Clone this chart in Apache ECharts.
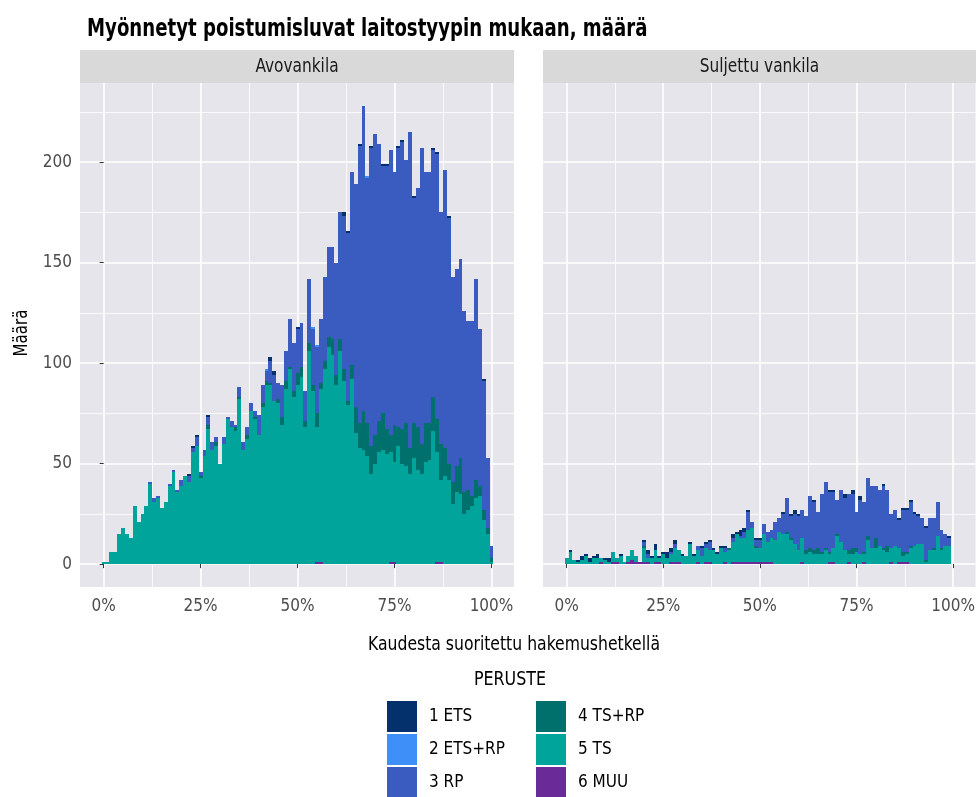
<!DOCTYPE html>
<html>
<head>
<meta charset="utf-8">
<script src="https://cdn.jsdelivr.net/npm/echarts@6/dist/echarts.min.js"></script>
<style>
  html, body { margin: 0; padding: 0; background: #fff; }
  #chart { width: 978px; height: 797px; }
</style>
</head>
<body>
<div id="chart"></div>
<script>
// bins: share of the term completed (%)
var pct = [0,1,2,3,4,5,6,7,8,9,10,11,12,13,14,15,16,17,18,19,20,21,22,23,24,25,26,27,28,29,
  30,31,32,33,34,35,36,37,38,39,40,41,42,43,44,45,46,47,48,49,50,51,52,53,54,55,56,57,58,59,
  60,61,62,63,64,65,66,67,68,69,70,71,72,73,74,75,76,77,78,79,80,81,82,83,84,85,86,87,88,89,
  90,91,92,93,94,95,96,97,98,99,100];
var xTicks = [0, 25, 50, 75, 100];
var xMinor = [12.5, 37.5, 62.5, 87.5];
var yTicks = [0, 50, 100, 150, 200];
var yMinor = [25, 75, 125, 175, 225];

var groups = ['1 ETS', '2 ETS+RP', '3 RP', '4 TS+RP', '5 TS', '6 MUU'];

// Avovankila
var open_muu = [0,0,0,0,0,0,0,0,0,0, 0,0,0,0,0,0,0,0,0,0, 0,0,0,0,0,0,0,0,0,0, 0,0,0,0,0,0,0,0,0,0,
  0,0,0,0,0,0,0,0,0,0, 0,0,0,0,0,1,1,0,0,0, 0,0,0,0,0,0,0,0,0,0, 0,0,0,0,1,1,0,0,0,0,
  0,0,0,0,0,0,1,1,0,0, 0,0,0,0,0,0,0,0,0,0, 0];
var open_ts = [1,1,6,6,15,18,15,13,29,21, 25,29,40,31,33,28,31,39,46,36, 39,44,41,56,59,43,54,67,57,59,
  50,60,72,68,66,82,57,62,76,72, 64,78,89,89,81,80,69,87,97,83, 89,93,68,106,86,67,86,97,108,104,
  89,106,91,79,92,65,58,57,54,45, 50,56,57,55,55,50,59,50,49,45, 53,47,45,51,52,66,55,41,44,42,
  30,36,35,25,27,29,33,34,22,15, 1];
var open_tsrp = [0,0,0,0,0,0,0,0,0,0, 0,0,0,0,0,0,0,0,0,0, 0,0,0,0,0,1,0,2,0,2, 0,0,0,0,2,1,0,2,0,1,
  0,2,2,1,0,2,4,4,1,3, 6,5,3,4,3,7,3,4,5,8, 5,6,6,2,7,13,12,19,16,14, 14,15,18,12,8,18,9,17,21,13,
  17,21,15,19,18,17,16,18,14,8, 11,13,18,11,10,5,9,5,5,3, 2];
var open_rp = [0,0,0,0,0,0,0,0,0,0, 0,0,1,2,1,0,0,1,1,1, 3,0,3,2,4,2,3,4,4,2, 0,3,1,3,1,5,4,4,4,3,
  10,9,5,11,13,8,16,15,24,24, 22,22,15,32,28,33,32,42,45,46, 56,63,76,84,96,111,138,152,122,148,
  150,138,123,131,142,126,139,143,131,157, 112,119,147,125,125,123,132,115,138,122,
  102,98,99,90,84,87,100,78,64,35, 6];
var open_etsrp = [0,0,0,0,0,0,0,0,0,0, 0,0,0,0,0,0,0,0,0,0, 0,0,0,0,0,0,0,0,0,0, 0,0,0,0,0,0,0,0,0,0,
  0,0,1,0,0,0,0,0,0,0, 0,0,0,0,1,1,0,0,0,0, 0,0,0,0,0,0,0,0,1,0, 0,0,0,0,0,0,0,0,0,0,
  0,0,0,0,0,0,0,0,0,0, 0,0,0,0,0,0,0,0,0,0, 0];
var open_ets = [0,0,0,0,0,0,0,0,0,0, 0,0,0,0,0,0,0,0,0,0, 0,0,1,1,1,0,0,1,0,0, 0,0,0,0,0,0,0,0,0,0,
  0,0,0,2,2,0,0,0,0,0, 1,0,0,0,0,0,0,0,0,0, 0,0,2,1,0,0,1,0,0,1, 0,0,1,1,0,0,1,1,0,0,
  1,0,0,0,0,1,1,0,0,1, 0,0,0,0,0,0,0,0,1,0, 0];

// Suljettu vankila
var closed_muu = [0,0,0,0,0,0,0,0,0,1, 0,0,1,1,0,0,1,2,1,1, 1,1,0,1,1,0,0,1,1,1, 0,0,0,0,1,0,1,1,0,0,
  0,1,0,1,1,1,1,1,1,1, 1,1,1,1,0,0,0,0,0,0, 0,1,0,0,0,0,0,0,1,1, 0,0,0,1,0,0,0,1,0,0,
  0,0,0,0,1,0,1,1,1,0, 0,0,0,0,0,0,0,0,0,0, 0];
var closed_ts = [3,6,2,1,2,4,1,3,3,2, 2,1,5,2,4,1,3,5,3,0, 7,2,3,6,2,5,3,4,7,6, 4,4,10,4,6,4,7,6,7,5,
  8,5,7,10,14,12,12,16,17,7, 7,14,10,12,12,16,15,15,12,10, 7,12,5,6,5,5,5,7,4,7,
  14,11,7,4,5,6,5,4,12,8, 8,9,7,6,7,9,7,3,4,8, 9,10,10,1,7,7,14,7,9,9, 0];
var closed_tsrp = [0,0,0,0,0,0,0,0,0,0, 0,0,0,0,0,0,0,0,0,0, 1,0,0,0,0,0,0,0,0,0, 0,0,0,0,0,0,0,0,0,0,
  0,0,1,0,0,0,0,0,0,1, 0,0,0,0,0,0,0,1,1,0, 0,0,2,2,2,3,1,1,1,0, 1,0,0,2,3,2,0,1,2,0,
  5,0,1,3,0,0,0,2,1,1, 0,0,0,1,0,1,0,1,0,0, 0];
var closed_rp = [0,0,0,0,0,0,0,0,0,0, 0,0,0,0,0,0,0,0,0,0, 2,2,0,0,0,0,0,1,2,0, 0,0,0,0,2,4,2,4,0,0,
  0,2,0,2,0,1,3,9,3,3, 4,5,5,4,9,7,10,17,11,15, 17,14,17,26,24,18,29,33,30,28,
  17,26,26,28,27,18,27,25,29,31, 26,28,31,28,17,18,14,21,21,22, 16,14,13,16,16,15,17,9,6,4, 0];
var closed_etsrp = [0,0,0,0,0,0,0,0,0,0, 0,0,0,0,0,0,0,0,0,0, 0,0,0,0,0,0,0,0,0,0, 0,0,0,0,0,0,0,0,0,0,
  0,0,0,0,0,0,0,0,0,0, 0,0,0,0,0,0,0,0,0,0, 0,0,0,0,0,0,0,0,0,0, 0,0,0,0,0,0,0,0,0,0,
  0,0,0,0,0,0,0,0,0,0, 0,0,0,0,0,0,0,0,0,0, 0];
var closed_ets = [0,1,0,1,2,1,2,1,2,0, 1,2,0,0,1,0,0,0,0,0, 1,2,1,3,1,1,3,2,2,0, 1,0,1,1,0,1,1,1,1,1,
  1,1,0,2,1,3,2,1,0,1, 1,0,0,0,0,0,1,0,1,2, 1,0,0,0,1,0,0,0,1,1, 0,0,2,0,2,0,2,0,0,0,
  0,0,1,0,0,0,1,1,1,1, 1,1,0,1,0,0,0,0,0,1, 0];

(function () {
  var font = '"DejaVu Sans Condensed", "Liberation Sans Narrow", sans-serif';
  var colors = {
    '1 ETS': '#04306B',
    '2 ETS+RP': '#3F8FF8',
    '3 RP': '#3A5BBF',
    '4 TS+RP': '#00706D',
    '5 TS': '#00A49B',
    '6 MUU': '#6A2A97'
  };
  var panelBg = '#E7E5EC';
  var xMin = -6.1, xMax = 105.8, yMin = -11.4, yMax = 239.4;

  // stacking order, bottom first
  var stackOrder = [
    ['6 MUU', open_muu, closed_muu],
    ['5 TS', open_ts, closed_ts],
    ['4 TS+RP', open_tsrp, closed_tsrp],
    ['3 RP', open_rp, closed_rp],
    ['2 ETS+RP', open_etsrp, closed_etsrp],
    ['1 ETS', open_ets, closed_ets]
  ];

  var panels = [
    { name: 'Avovankila', left: 80, width: 434 },
    { name: 'Suljettu vankila', left: 543, width: 433 }
  ];
  var top = 83, height = 504;

  var grids = [], xAxes = [], yAxes = [], series = [], graphics = [];
  panels.forEach(function (p, pi) {
    grids.push({ left: p.left, top: top, width: p.width, height: height,
      show: true, backgroundColor: panelBg, borderWidth: 0 });
    xAxes.push({
      type: 'value', gridIndex: pi, min: xMin, max: xMax,
      axisLine: { show: false },
      axisTick: { show: true, customValues: xTicks, length: 4, lineStyle: { color: '#333', width: 1 } },
      axisLabel: { customValues: xTicks, formatter: '{value}%', color: '#4D4D4D',
        fontFamily: font, fontSize: 17, margin: 11 },
      splitLine: { show: true, lineStyle: { color: '#fff', width: 1.6 } }
    });
    yAxes.push({
      type: 'value', gridIndex: pi, min: yMin, max: yMax,
      axisLine: { show: false },
      axisTick: { show: pi === 0, customValues: yTicks, length: 4, lineStyle: { color: '#333', width: 1 } },
      axisLabel: { show: pi === 0, customValues: yTicks, color: '#4D4D4D',
        fontFamily: font, fontSize: 17, margin: 8 },
      splitLine: { show: true, lineStyle: { color: '#fff', width: 1.6 } }
    });
    graphics.push({ type: 'rect', z: 10, shape: { x: p.left, y: 50, width: p.width, height: 33 },
      style: { fill: '#D9D9D9' } });
    graphics.push({ type: 'text', z: 11, x: p.left + p.width / 2, y: 67, scaleX: 0.9,
      style: { text: p.name, font: '19px ' + font, fill: '#1A1A1A', align: 'center', verticalAlign: 'middle' } });
  });
  // minor grid lines on twin grids
  panels.forEach(function (p, pi) {
    grids.push({ left: p.left, top: top, width: p.width, height: height, show: false });
    xAxes.push({
      type: 'value', gridIndex: 2 + pi, min: xMin, max: xMax,
      axisLine: { show: false }, axisLabel: { show: false },
      axisTick: { show: false, customValues: xMinor },
      splitLine: { show: true, lineStyle: { color: '#fff', width: 0.8 } }
    });
    yAxes.push({
      type: 'value', gridIndex: 2 + pi, min: yMin, max: yMax,
      axisLine: { show: false }, axisLabel: { show: false },
      axisTick: { show: false, customValues: yMinor },
      splitLine: { show: true, lineStyle: { color: '#fff', width: 0.8 } }
    });
  });

  // one-unit-wide histogram bins, stacked on the running total; edges snapped to pixels
  function renderBin(params, api) {
    var x = api.value(0), base = api.value(1), v = api.value(2);
    if (!v) return null;
    var p0 = api.coord([x - 0.5, base]);
    var p1 = api.coord([x + 0.5, base + v]);
    var xl = Math.round(p0[0]), xr = Math.round(p1[0]);
    var yb = Math.round(p0[1]), yt = Math.round(p1[1]);
    return {
      type: 'rect',
      shape: { x: xl, y: yt, width: xr - xl, height: yb - yt },
      style: { fill: api.visual('color') }
    };
  }

  [0, 1].forEach(function (pi) {
    var running = pct.map(function () { return 0; });
    stackOrder.forEach(function (s) {
      var vals = s[1 + pi];
      var data = pct.map(function (x, i) { return [x, running[i], vals[i]]; });
      running = running.map(function (r, i) { return r + vals[i]; });
      series.push({
        name: s[0], type: 'custom',
        xAxisIndex: pi, yAxisIndex: pi,
        itemStyle: { color: colors[s[0]] },
        encode: { x: 0, y: [1, 2] },
        renderItem: renderBin,
        data: data
      });
    });
  });

  graphics.push({ type: 'text', x: 87, y: 30, scaleX: 0.84,
    style: { text: 'Myönnetyt poistumisluvat laitostyypin mukaan, määrä', font: 'bold 24px ' + font,
      fill: '#000', align: 'left', verticalAlign: 'middle' } });
  graphics.push({ type: 'text', x: 22, y: 333, rotation: Math.PI / 2, scaleX: 0.88,
    style: { text: 'Määrä', font: '19px ' + font, fill: '#000', align: 'center', verticalAlign: 'middle' } });
  graphics.push({ type: 'text', x: 514, y: 645, scaleX: 0.915,
    style: { text: 'Kaudesta suoritettu hakemushetkellä', font: '19px ' + font, fill: '#000', align: 'center', verticalAlign: 'middle' } });
  graphics.push({ type: 'text', x: 510, y: 680, scaleX: 0.93,
    style: { text: 'PERUSTE', font: '19px ' + font, fill: '#000', align: 'center', verticalAlign: 'middle' } });

  var legendBase = {
    orient: 'vertical', icon: 'rect', itemWidth: 30, itemHeight: 31, itemGap: 2,
    selectedMode: false, padding: 0, top: 701, height: 110,
    textStyle: { fontFamily: font, fontSize: 17, color: '#000', padding: [0, 0, 0, 7] }
  };

  var chart = echarts.init(document.getElementById('chart'), null, { renderer: 'canvas' });
  chart.setOption({
    animation: false,
    backgroundColor: '#fff',
    legend: [
      Object.assign({}, legendBase, { left: 387, data: groups.slice(0, 3) }),
      Object.assign({}, legendBase, { left: 536, data: groups.slice(3) })
    ],
    grid: grids,
    xAxis: xAxes,
    yAxis: yAxes,
    series: series,
    graphic: graphics
  });
  window.addEventListener('resize', function () { chart.resize(); });
})();
</script>
</body>
</html>
